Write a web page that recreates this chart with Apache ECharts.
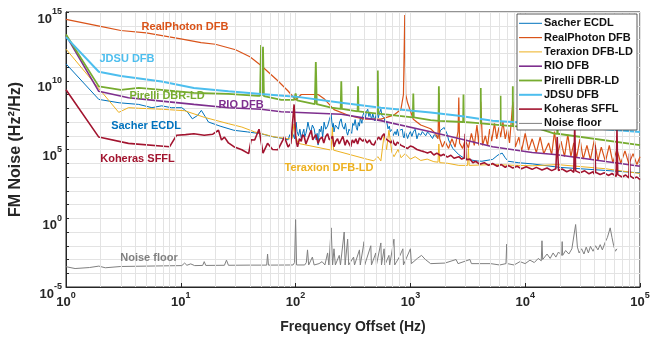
<!DOCTYPE html>
<html>
<head>
<meta charset="utf-8">
<script src="https://cdn.jsdelivr.net/npm/echarts@6/dist/echarts.min.js"></script>
<style>
  html, body { margin: 0; padding: 0; background: #fff; }
  #main { width: 662px; height: 339px; }
</style>
</head>
<body>
<div id="main"></div>
<script>
// [frequency offset (Hz), FM noise (Hz^2/Hz)]
const sacher = [[1,1.7e11],[1.93,4.4e8],[2.9,2.5e8],[4.3,1.9e8],[5.6,1.1e8],[6.8,1.5e8],[8.3,1.1e8],[10.2,1.1e8],[11.5,5e7],[12.6,1.7e7],[14,3e7],[15.1,7e7],[16.3,2.5e7],[17.4,1e7],[22,5e6],[29,2.5e6],[38,1.9e6],[50,1.4e6],[65,8e5],[80,6e5],[86,5e5],[89,1.2e6],[91,4.9e5],[94,1.5e6],[96,2e6],[98,6e5],[101,9.8e6],[103,2e6],[106,1e6],[109,3e6],[112,6.3e5],[115,1.5e6],[118,3e6],[120,8e5],[123,1.5e6],[126,4e6],[128,9.8e6],[132,3e6],[136,2e6],[140,6e6],[145,3.2e6],[148,1.2e6],[151,5e5],[154,1.5e6],[157,2.1e5],[161,3e6],[165,2e6],[168,5e6],[172,8e5],[175,3e6],[177,9.8e6],[183,3e6],[190,5e6],[197,1.5e7],[204,3.7e7],[207,1e7],[210,4e6],[213,8e6],[216,1.9e6],[222,6e6],[230,8e6],[236,3e6],[242,1e7],[249,1.7e7],[256,5e6],[265,3e6],[272,8e6],[278,2e6],[284,1.1e6],[292,3e6],[300,4e6],[308,1.5e6],[315,8e6],[322,5.6e6],[330,1.5e7],[338,4e6],[345,2.5e6],[352,9e6],[360,5e6],[366,2e7],[371,1.7e7],[378,8e6],[385,3e7],[395,5e7],[405,2e7],[415,6e7],[425,8.5e7],[435,2.5e7],[442,5e7],[450,3e7],[460,1.5e7],[470,4e7],[481,2.9e7],[490,1.2e7],[500,3e7],[515,6e7],[525,2e7],[540,5e7],[553,8.5e7],[565,3e7],[578,4e7],[590,2e7],[605,8e6],[620,1.2e7],[638,3.2e6],[655,5e6],[668,2e6],[680,1.5e6],[695,3e6],[706,1e6],[719,8.3e5],[735,2e6],[750,1.2e6],[770,3e6],[790,1e6],[805,2.5e6],[826,1.9e6],[850,3e6],[865,1e6],[880,7e5],[900,2e6],[925,1.2e6],[945,6.3e5],[970,1.2e6],[1000,2e6],[1030,9e5],[1060,1.9e6],[1100,3e6],[1140,6e5],[1180,1.5e6],[1230,1.1e6],[1270,2e6],[1310,2.5e6],[1360,1e6],[1410,1.9e6],[1480,1.2e6],[1560,6.3e5],[1610,1.2e6],[1670,1.5e6],[1720,7e5],[1770,1.1e6],[1830,2.5e6],[1900,2e6],[1970,4e6],[2050,3.2e6],[2100,1.2e6],[2150,4.9e5],[2340,1.2e5],[2640,4.2e4],[2900,2.5e4],[3200,1.9e4],[3700,1.5e4],[4200,1.4e4],[5200,1.9e4],[5800,4e4],[6300,5.5e4],[6700,2.5e4],[7100,1.4e4],[8700,1.1e4],[11500,9e3],[20000,5e3],[50000,3e3],[100000,2e3]];

const realPhoton = [[1,2.9e14],[2,9e13],[3,4.5e13],[5,3e13],[10,1.1e13],[15,6e12],[20,4.5e12],[30,1.8e12],[40,5.5e11],[50,1.3e11],[70,1e10],[86,1.8e9],[100,4e8],[112,1e9],[126,1e9],[157,1e9],[177,5e8],[216,8e7],[284,3.2e7],[395,1.6e7],[553,1.6e7],[719,3.2e7],[826,8e7],[870,1e9],[893,6e14],[910,1e9],[945,2.5e8],[1060,1.6e7],[1230,6e6],[1500,3.2e6],[1650,1.5e6],[1740,6e5],[1770,1.3e9],[1800,6e5],[1900,1.5e5],[2000,4e5],[2150,1.2e5],[2300,6e5],[2450,1.5e5],[2600,2e6],[2640,6e8],[2680,3e5],[2850,1.2e5],[3000,5e5],[3200,1.3e5],[3400,1.5e6],[3600,2e5],[3800,6e6],[3950,2e5],[4100,3e8],[4250,2e5],[4500,1e6],[4700,1.8e5],[4900,3e6],[5100,4e5],[5400,8e6],[5650,6e5],[5900,4e6],[6100,8e5],[6400,1e7],[6700,6e5],[7000,3e6],[7300,3e5],[7800,3e8],[8200,1.5e5],[8800,8e5],[9300,8e4],[10000,1.5e6],[10700,9e4],[11500,6e5],[12500,6e4],[13500,8e5],[14500,5e4],[16000,3e5],[17000,4e4],[18000,2e6],[19000,4e4],[20500,4e5],[22000,3e4],[23500,1.2e6],[25000,3e4],[26500,3e5],[28000,2.5e4],[30000,6e5],[32000,2e4],[34500,2e5],[37000,1.8e4],[40000,5e5],[43000,1.5e4],[46000,1.5e5],[50000,1.3e4],[54000,2e5],[58000,1.1e4],[63000,1e5],[68000,1e4],[74000,8e4],[80000,9e3],[87000,5e4],[94000,8e3],[100000,3e4]];

const teraxion = [[1,2e12],[2.88,5e7],[3.5,1.1e8],[4.3,1e8],[6.8,8.5e7],[10.8,6.6e7],[16,2.2e7],[26,7.5e6],[34,4.3e6],[44,1.9e6],[65,8.3e5],[86,6e5],[93,6e5],[97,7.4e6],[100,1e6],[105,2.8e5],[204,9e4],[209,4e6],[214,9e4],[425,1.9e4],[480,1.5e4],[520,3e4],[553,1.5e4],[590,1.2e6],[620,1e5],[650,2.5e6],[690,6e4],[720,3e4],[780,1e5],[830,2.5e4],[900,5e4],[1000,2e4],[1100,3e4],[1230,1.6e4],[1400,2e4],[1600,1.3e4],[1740,1.2e4],[1770,2.5e5],[1800,1.1e4],[2100,1e4],[2640,7e3],[3150,7e3],[3200,1.2e5],[3250,7e3],[5200,8e3],[11500,6.5e3],[19000,8e3],[50000,4e3],[100000,1.8e3]];

const rio = [[1,2e13],[1.93,1.7e9],[3.5,5.8e8],[6.8,3.3e8],[13,1.9e8],[26,1.1e8],[50,8.5e7],[75,5.5e7],[250,3.7e7],[553,1.26e7],[1400,2.2e6],[2640,6.3e5],[5200,1.6e5],[11500,6e4],[19000,4.2e4],[100000,6e3]];

const pirelli = [[1,2.3e13],[1.93,3.9e9],[3,2.2e9],[4.3,3e9],[6.8,2.2e9],[13,1.3e9],[26,1.1e9],[47,8e8],[49,8e8],[50,4e12],[51,8e8],[52,3e12],[53,7.5e8],[75,4e8],[97,4e8],[100,1.2e9],[103,3.8e8],[147,2e8],[150,2.3e11],[153,2e8],[204,1.1e8],[247,9e7],[250,9e9],[253,9e7],[347,6e7],[350,4e9],[353,6e7],[515,4e7],[520,5.5e10],[525,4e7],[1050,2.2e7],[1060,1.2e9],[1070,2.2e7],[1500,1.35e7],[1760,1.2e7],[1770,4e9],[1780,1.2e7],[2880,1e7],[2900,1e9],[2920,1e7],[3700,8.7e6],[4080,8e6],[4100,3e9],[4120,8e6],[6080,6e6],[6100,8e8],[6120,6e6],[7780,5e6],[7800,4e9],[7820,5e6],[10600,4.5e6],[10650,6e8],[10700,4.4e6],[11500,4.3e6],[13450,3e6],[13500,3e8],[13550,3e6],[18000,1.45e6],[19000,1.4e6],[19100,1.1e8],[19200,1.4e6],[100000,2.1e5]];

const jdsu = [[1,1.5e13],[1.93,4.5e10],[3,2.2e10],[6.8,8.7e9],[13,3e9],[26,1.7e9],[50,1.1e9],[100,7e8],[250,2.5e8],[553,1.1e8],[1500,5e7],[2640,2.9e7],[5200,1.25e7],[11500,8e6],[18000,7e6],[50000,3e6],[100000,1.9e6]];

const koheras = [[1,2.2e9],[1.93,8e5],[3.5,2.8e5],[8,1.6e5],[9.2,1.1e6],[11,1.2e6],[13,1.4e6],[16,1.1e6],[19,1.3e6],[21.3,2.5e6],[22.6,4.9e5],[24,8e5],[26,3e5],[29,1.6e5],[34,9.5e4],[39,5e4],[41,5e5],[44,4.9e5],[48,3e6],[52,5.5e4],[57,2.8e5],[63,1e5],[70,9.5e4],[80,8.3e5],[86,1.5e5],[91,2.8e5],[97,1.9e8],[100,1e6],[102,3e5],[104,1.6e5],[108,6e5],[112,4e5],[115,1.2e6],[119,8.3e5],[123,2.5e5],[128,3e5],[132,1.2e6],[137,2.5e6],[141,5e5],[145,6e5],[150,1.2e6],[157,2.8e5],[163,6e5],[170,8e5],[176,3e5],[183,9e5],[190,1.4e6],[197,5e5],[204,4e5],[210,9e5],[216,1.6e5],[224,4e5],[232,6e5],[240,2.5e5],[249,4.9e5],[258,9e5],[270,2e5],[280,5e5],[290,3e5],[302,1.6e5],[312,5e5],[323,3e5],[335,6e5],[347,2.5e5],[360,7e5],[371,8.3e5],[385,4e5],[400,6e5],[420,3e5],[440,5e5],[460,2.5e5],[481,2.1e5],[500,4e5],[515,3e5],[530,8e5],[550,5e5],[570,1e6],[590,1.4e6],[610,6e5],[630,8e5],[650,4e5],[680,3e5],[700,5e5],[719,2.8e5],[745,2e5],[770,3.5e5],[800,4e5],[830,2e5],[860,2.5e5],[880,1.6e5],[910,2e5],[945,1.2e5],[1000,1.8e5],[1060,1.5e5],[1140,1e5],[1230,8e4],[1310,7e4],[1410,5.5e4],[1500,7e4],[1600,4e4],[1700,5.5e4],[1840,3.5e4],[1950,4.5e4],[2100,2.8e4],[2250,3.8e4],[2400,2.3e4],[2640,3e4],[2800,2e4],[2950,2.4e4],[3000,1.4e6],[3050,1.8e4],[3300,2e4],[3500,1.1e4],[3700,1.4e4],[4000,8.5e3],[4400,1.1e4],[4800,7e3],[5200,9.5e3],[5700,6e3],[6200,8e3],[6700,5e3],[7100,7e3],[7800,4.5e3],[8500,6e3],[9300,4e3],[10200,5.5e3],[11500,3.6e3],[12500,5e3],[14000,3.2e3],[15500,4.5e3],[17000,2.9e3],[18500,4e3],[19000,8e5],[19500,3e3],[21000,3.8e3],[23000,2.4e3],[25000,3.3e3],[26500,2.2e3],[27000,6e6],[27500,2.8e3],[30000,2e3],[33000,2.8e3],[36000,1.7e3],[39000,2.4e3],[40000,1.6e3],[40500,2e5],[41000,2.2e3],[45000,1.5e3],[49000,2e3],[53000,1.3e3],[57000,1.8e3],[62000,1.1e3],[63000,3e6],[64000,1.5e3],[70000,1e3],[75000,1.4e3],[80000,8.5e2],[81000,5e4],[82000,1.2e3],[88000,8e2],[94000,1e3],[100000,6.5e2]];

const noiseFloor = [[1,3e-4],[1.2,2.2e-4],[1.6,2.6e-4],[1.93,3.3e-4],[2.2,2.5e-4],[3,3.1e-4],[5,3.3e-4],[8,3.5e-4],[10.2,3.6e-4],[10.8,5.5e-4],[11.3,3.8e-4],[12.2,4.8e-4],[13.2,3.6e-4],[15.5,3.7e-4],[16,7e-4],[16.5,3.7e-4],[24,3.8e-4],[25,9e-4],[26,3.8e-4],[40,3.9e-4],[56,3.9e-4],[57,2.5e-3],[58,3.9e-4],[95,4e-4],[98,6e-4],[100,0.8],[102,4e-4],[120,4e-4],[124,6e-4],[127,5e-3],[130,4e-4],[140,1.5e-3],[145,4e-4],[160,5e-4],[170,7e-4],[180,4e-4],[190,3e-3],[195,4e-4],[204,0.2],[210,4e-4],[216,6e-3],[222,4e-4],[240,2e-3],[246,4e-4],[265,0.1],[270,4e-4],[284,3e-2],[290,4e-4],[320,1.5e-3],[326,4e-4],[360,5e-3],[366,4e-4],[395,2e-2],[400,4e-4],[452,1e-2],[458,4e-4],[500,3e-3],[506,4e-4],[553,1.6e-2],[560,4e-4],[590,6e-3],[600,4e-4],[650,2e-3],[660,4e-4],[719,3e-2],[730,4e-4],[800,1.5e-3],[860,6e-3],[870,4e-4],[1000,6e-3],[1020,5e-4],[1150,1.2e-3],[1250,2e-3],[1350,1e-3],[1500,5e-4],[2000,5.5e-4],[2500,1e-3],[2600,5e-4],[3300,1e-3],[3400,5e-4],[5000,5e-4],[6000,4e-4],[6800,5e-4],[6900,1.3e-2],[7000,5e-4],[8000,4e-4],[9000,7e-4],[10000,5e-4],[11000,9e-4],[12000,6e-4],[13000,1.2e-3],[13800,8e-4],[14000,2.3e-2],[14200,1e-3],[15500,2.5e-3],[16500,1.2e-3],[17500,3e-3],[18500,1.5e-3],[19500,3.5e-3],[20800,2e-3],[21000,2e-2],[21200,2e-3],[22500,4.5e-3],[24000,2.5e-3],[25500,6e-3],[26500,5e-3],[27500,0.35],[28500,8e-3],[29500,3e-3],[31000,6e-3],[32500,2.5e-3],[34000,8e-3],[35500,3e-3],[37000,9e-3],[39000,4e-3],[41000,1e-2],[43000,5e-3],[45000,1.2e-2],[47000,5e-3],[50000,2e-2],[52000,4e-2],[55000,0.2],[57000,4e-2],[59000,1e-2],[61000,4e-3],[63000,6e-3]];

const names = ['Sacher ECDL', 'RealPhoton DFB', 'Teraxion DFB-LD', 'RIO DFB', 'Pirelli DBR-LD', 'JDSU DFB', 'Koheras SFFL', 'Noise floor'];
const colors = ['#0072BD', '#D95319', '#EDB120', '#7E2F8E', '#77AC30', '#4DBEEE', '#A2142F', '#808080'];
const widths = [1, 1.2, 1, 1.6, 1.8, 2, 1.6, 1];
const allData = [sacher, realPhoton, teraxion, rio, pirelli, jdsu, koheras, noiseFloor];
const xDecades = [1, 10, 100, 1000, 10000];

const FONT = '"Liberation Sans", Arial, sans-serif';

// light grid lines at 2..9 of every decade on the log x axis
const minorX = [];
xDecades.forEach(function (d) {
  for (let k = 2; k <= 9; k++) minorX.push({ xAxis: k * d });
});

function supLabel(v) {
  const e = Math.round(Math.log10(v));
  return '{b|10}{s|' + e + '}';
}
const labelRich = {
  b: { fontSize: 13, fontWeight: 'bold', fontFamily: FONT, color: '#262626', lineHeight: 18, verticalAlign: 'bottom' },
  s: { fontSize: 9, fontWeight: 'bold', fontFamily: FONT, color: '#262626', verticalAlign: 'top' }
};

var myChart = echarts.init(document.getElementById('main'));

const series = allData.map(function (d, i) {
  return {
    name: names[i],
    type: 'line',
    data: d,
    symbol: 'none',
    showSymbol: false,
    silent: true,
    z: 2,
    lineStyle: { color: colors[i], width: widths[i] },
    itemStyle: { color: colors[i] }
  };
});
// invisible carrier for the minor vertical grid
series.unshift({
  type: 'line',
  data: [[1, 1e-5]],
  symbol: 'none',
  silent: true,
  z: 1,
  lineStyle: { opacity: 0 },
  markLine: {
    silent: true,
    symbol: 'none',
    animation: false,
    label: { show: false },
    lineStyle: { color: '#e3e3e3', type: 'solid', width: 1 },
    data: minorX
  }
});

// in-plot curve labels
const labels = [
  { t: 'RealPhoton DFB', x: 185, y: 26.5, c: colors[1] },
  { t: 'JDSU DFB', x: 127, y: 58.5, c: colors[5] },
  { t: 'Pirelli DBR-LD', x: 167, y: 95.5, c: colors[4] },
  { t: 'RIO DFB', x: 241, y: 104.5, c: colors[3] },
  { t: 'Sacher ECDL', x: 146, y: 125.5, c: colors[0] },
  { t: 'Koheras SFFL', x: 137.5, y: 158.5, c: colors[6] },
  { t: 'Teraxion DFB-LD', x: 329, y: 167.5, c: colors[2] },
  { t: 'Noise floor', x: 149, y: 257.5, c: colors[7] }
];

const graphics = labels.map(function (l) {
  return {
    type: 'text',
    silent: true,
    z: 10,
    style: {
      text: l.t, x: l.x, y: l.y,
      fill: l.c,
      font: 'bold 11px ' + FONT,
      textAlign: 'center', textVerticalAlign: 'middle',
      align: 'center', verticalAlign: 'middle'
    }
  };
});

// legend box, MATLAB style
graphics.push({
  type: 'rect', silent: true, z: 100,
  shape: { x: 517, y: 14, width: 120, height: 116 },
  style: { fill: '#fff', stroke: '#333', lineWidth: 0.8 }
});
names.forEach(function (n, i) {
  const cy = 23.3 + i * 14.3;
  graphics.push({
    type: 'line', silent: true, z: 101,
    shape: { x1: 519, y1: cy, x2: 542, y2: cy },
    style: { stroke: colors[i], lineWidth: widths[i] }
  });
  graphics.push({
    type: 'text', silent: true, z: 101,
    style: {
      text: n, x: 544, y: cy, fill: '#111',
      font: 'bold 11px ' + FONT,
      textAlign: 'left', textVerticalAlign: 'middle',
      align: 'left', verticalAlign: 'middle'
    }
  });
});

const option = {
  animation: false,
  backgroundColor: '#fff',
  grid: { left: 64, right: 22, top: 12, bottom: 45, show: true, borderColor: '#262626', borderWidth: 1, backgroundColor: 'transparent' },
  xAxis: {
    type: 'log',
    logBase: 10,
    min: 1,
    max: 100000,
    interval: 1,
    name: 'Frequency Offset (Hz)',
    nameLocation: 'middle',
    nameGap: 33,
    nameTextStyle: { fontSize: 14, fontWeight: 'bold', fontFamily: FONT, color: '#262626' },
    axisLine: { lineStyle: { color: '#262626', width: 1 } },
    axisTick: { inside: true, length: 4, lineStyle: { color: '#262626' } },
    splitLine: { show: true, lineStyle: { color: '#e3e3e3', width: 1 } },
    axisLabel: { formatter: supLabel, rich: labelRich, margin: 4 }
  },
  yAxis: {
    type: 'log',
    logBase: 10,
    min: 1e-5,
    max: 1e15,
    interval: 1,
    name: 'FM Noise (Hz²/Hz)',
    nameLocation: 'middle',
    nameGap: 42,
    nameTextStyle: { fontSize: 16, fontWeight: 'bold', fontFamily: FONT, color: '#262626' },
    axisLine: { lineStyle: { color: '#262626', width: 1 } },
    axisTick: { inside: true, length: 3, lineStyle: { color: '#262626' } },
    splitLine: { show: true, lineStyle: { color: '#e3e3e3', width: 1 } },
    axisLabel: {
      margin: 4,
      padding: [9, 0, 0, 0],
      rich: labelRich,
      formatter: function (v) {
        const e = Math.round(Math.log10(v));
        return e % 5 === 0 ? supLabel(v) : '';
      }
    }
  },
  graphic: graphics,
  series: series
};

myChart.setOption(option);
</script>
</body>
</html>
